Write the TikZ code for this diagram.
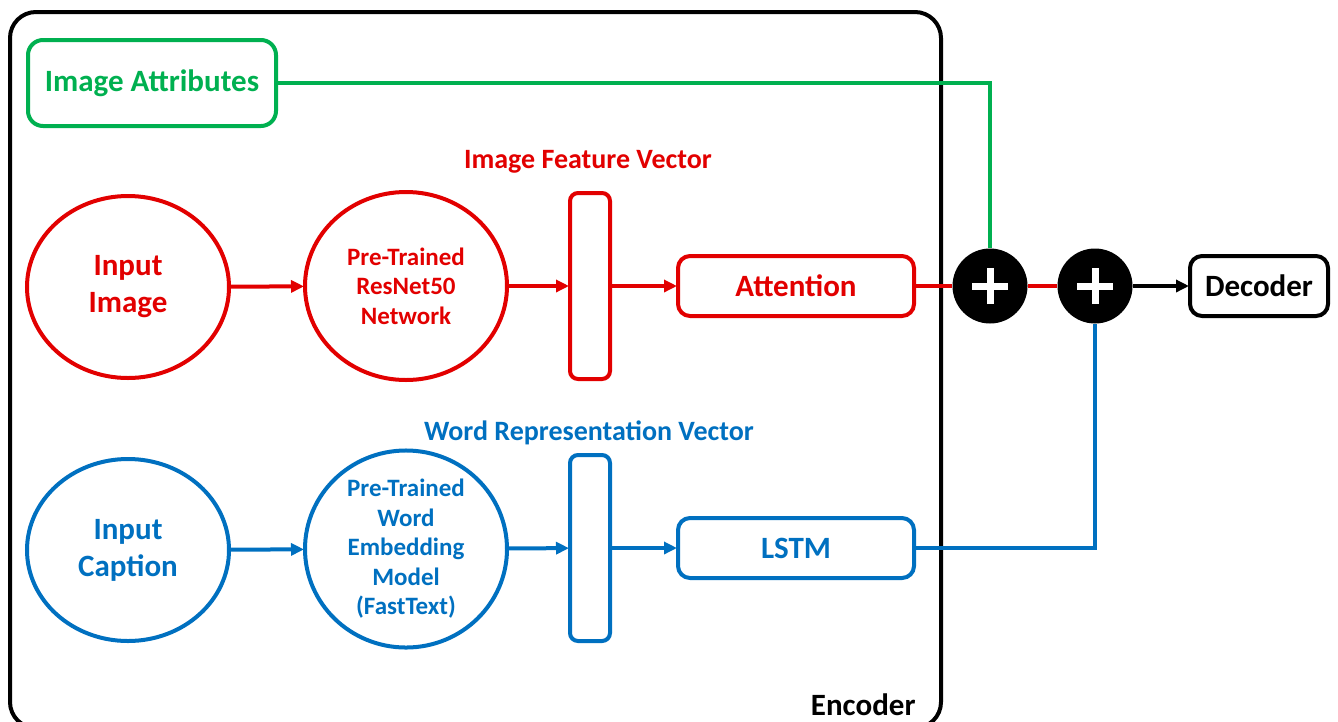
\documentclass[tikz,border=0pt]{standalone}
\usepackage{fontspec}
\setmainfont{Carlito}
\usetikzlibrary{arrows.meta,shapes.geometric}
\definecolor{cred}{RGB}{226,0,0}
\definecolor{cblue}{RGB}{0,112,192}
\definecolor{cgreen}{RGB}{0,176,80}
\tikzset{
  lw/.style={line width=4pt},
  big/.style={font=\fontsize{31}{37}\selectfont\bfseries},
  mid/.style={font=\fontsize{28}{32}\selectfont\bfseries},
  small/.style={font=\fontsize{25}{29.5}\selectfont\bfseries},
  blob/.style={ellipse, draw, lw, inner sep=0pt, align=center},
  vecbox/.style={draw, lw, rounded corners=8pt, minimum width=40pt, minimum height=186pt, inner sep=0pt},
  opbox/.style={draw, lw, rounded corners=12pt, minimum width=236pt, minimum height=60pt, inner sep=0pt, big},
  plus/.style={circle, fill=black, minimum size=75pt, inner sep=0pt,
    path picture={\draw[white, line width=7pt]
      ([xshift=-18pt]path picture bounding box.center) -- ([xshift=18pt]path picture bounding box.center)
      ([yshift=-18pt]path picture bounding box.center) -- ([yshift=18pt]path picture bounding box.center);}},
  arr/.style={lw, -{Triangle[length=13pt,width=12pt]}, shorten >=-1pt},
}
\begin{document}
\begin{tikzpicture}[x=1pt,y=-1pt]
\useasboundingbox (0,0) rectangle (1338,721);

% encoder frame (its lower edge runs past the page)
\draw[lw, rounded corners=26pt] (10,12) rectangle (941,728);
\node[big, anchor=east] (enc) at (919,705) {Encoder};

% image attributes
\node[draw=cgreen, text=cgreen, lw, rounded corners=15pt, minimum width=248pt, minimum height=86pt, big] (ia) at (152,83) {Image Attributes};

% image branch
\node[blob, draw=cred, text=cred, big, minimum width=202pt, minimum height=182pt] (img) at (128,287) {Input\\Image};
\node[blob, draw=cred, text=cred, small, minimum width=202pt, minimum height=188pt] (res) at (406,286) {Pre-Trained\\ResNet50\\Network};
\node[vecbox, draw=cred] (fv) at (590,286) {};
\node[mid, text=cred] (fvl) at (588,162) {Image Feature Vector};
\node[opbox, draw=cred, text=cred] (att) at (796,286) {Attention};

% caption branch
\node[blob, draw=cblue, text=cblue, big, minimum width=202pt, minimum height=182pt] (cap) at (128,550) {Input\\Caption};
\node[blob, draw=cblue, text=cblue, small, minimum width=202pt, minimum height=189pt] (emb) at (406,549) {Pre-Trained\\Word\\Embedding\\Model\\(FastText)};
\node[vecbox, draw=cblue] (wv) at (590,548) {};
\node[mid, text=cblue] (wvl) at (589,433) {Word Representation Vector};
\node[opbox, draw=cblue, text=cblue] (lstm) at (796,548) {LSTM};

% fusion and decoder
\node[plus] (p1) at (990,286) {};
\node[plus] (p2) at (1095,286) {};
\node[draw, lw, rounded corners=12pt, minimum width=138pt, minimum height=60pt, inner sep=0pt, big] (dec) at (1259,286) {Decoder};

% connectors
\draw[arr, cred] (img) -- (res);
\draw[arr, cred] (res) -- (fv);
\draw[arr, cred] (fv) -- (att);
\draw[arr, cblue] (cap) -- (emb);
\draw[arr, cblue] (emb) -- (wv);
\draw[arr, cblue] (wv) -- (lstm);
\draw[lw, cgreen] (ia.east) -| (p1.north);
\draw[lw, cred] (att.east) -- (p1.west);
\draw[lw, cred] (p1.east) -- (p2.west);
\draw[lw, cblue] (lstm.east) -| (p2.south);
\draw[arr, black] (p2.east) -- (dec.west);
\end{tikzpicture}
\end{document}
